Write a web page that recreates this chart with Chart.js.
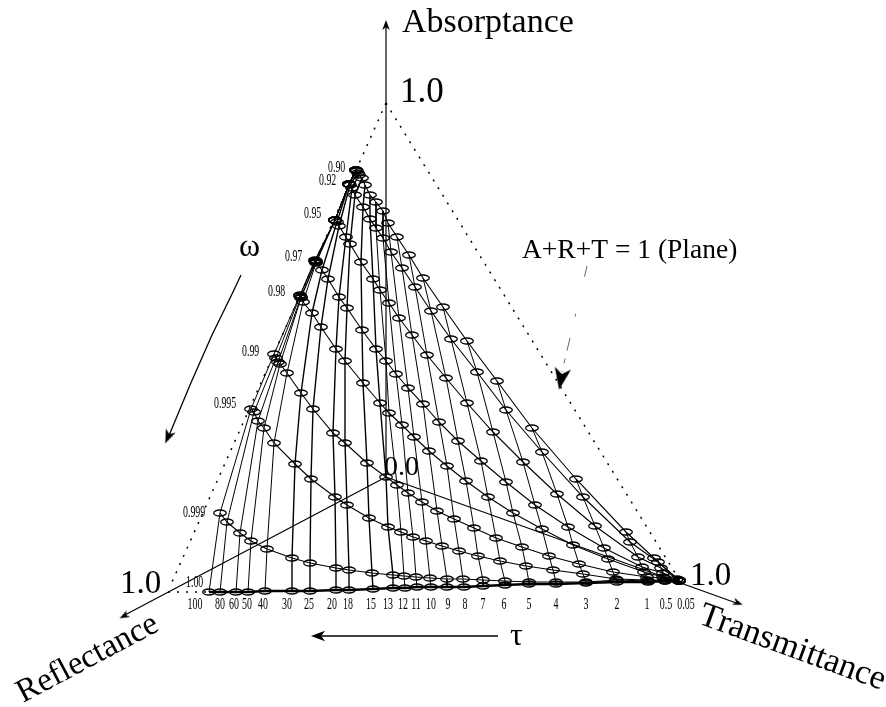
<!DOCTYPE html>
<html>
<head>
<meta charset="utf-8">
<title>A+R+T = 1</title>
<script src="https://cdn.jsdelivr.net/npm/chart.js@4/dist/chart.umd.min.js"></script>
<style>
  html, body { margin: 0; padding: 0; background: #fff; }
  canvas { display: block; }
</style>
</head>
<body>
<canvas id="chart" width="886" height="707"></canvas>
<script>
// optical depth labels, one point per curve for each of them
const tauLabels = ['100', '80', '60', '50', '40', '30', '25', '20', '18', '15', '13', '12', '11', '10', '9', '8', '7', '6', '5', '4', '3', '2', '1', '0.5', '0.05'];
const omegaLabels = ['0.90', '0.92', '0.95', '0.97', '0.98', '0.99', '0.995', '0.999', '1.00'];

// projected position of each (omega, tau) pair
const x090 = [356, 356, 356, 356, 356, 357, 358, 359, 362, 365, 370, 376, 383, 388, 397, 409, 423, 443, 467, 497, 532, 576, 626, 654, 677];
const y090 = [170, 170, 170, 170, 170, 171, 173, 175, 178, 185, 195, 202, 211, 223, 237, 255, 278, 307, 341, 381, 428, 479, 532, 558, 579];
const x092 = [349, 349, 349, 349, 349, 349, 350, 352, 355, 363, 370, 376, 383, 391, 402, 415, 431, 451, 477, 506, 542, 583, 630, 658, 679];
const y092 = [184, 184, 184, 184, 184, 184, 185, 188, 195, 207, 219, 228, 238, 252, 268, 287, 311, 339, 372, 410, 452, 497, 542, 562, 580];
const x095 = [335, 335, 335, 335, 335, 337, 339, 346, 350, 361, 373, 380, 389, 399, 412, 427, 446, 467, 493, 523, 557, 595, 638, 661, 679];
const y095 = [220, 220, 220, 220, 220, 222, 226, 237, 244, 262, 279, 290, 303, 318, 335, 355, 378, 403, 432, 462, 494, 526, 557, 568, 580];
const x097 = [315, 315, 316, 316, 316, 322, 328, 339, 347, 362, 376, 386, 396, 408, 423, 439, 458, 481, 506, 535, 568, 604, 642, 663, 679];
const y097 = [260, 261, 261, 262, 263, 270, 279, 297, 308, 330, 349, 361, 374, 388, 404, 422, 441, 461, 482, 505, 527, 548, 567, 573, 581];
const x098 = [300, 300, 301, 301, 303, 312, 321, 336, 345, 363, 380, 389, 402, 414, 429, 447, 466, 488, 513, 542, 573, 608, 644, 663, 679];
const y098 = [295, 296, 297, 298, 302, 313, 327, 349, 361, 383, 403, 413, 425, 437, 451, 466, 481, 497, 513, 529, 545, 559, 572, 577, 581];
const x099 = [274, 276, 278, 280, 287, 301, 313, 333, 345, 367, 386, 397, 408, 422, 437, 454, 474, 496, 522, 549, 579, 613, 647, 664, 679];
const y099 = [354, 358, 362, 364, 373, 393, 409, 433, 443, 463, 477, 485, 493, 502, 511, 519, 528, 538, 547, 556, 564, 572, 577, 578, 581];
const x0995 = [251, 254, 258, 264, 274, 295, 311, 335, 347, 369, 388, 401, 413, 426, 442, 459, 478, 500, 526, 553, 583, 616, 647, 665, 679];
const y0995 = [409, 412, 421, 428, 443, 464, 479, 497, 505, 518, 527, 532, 537, 541, 546, 551, 556, 561, 566, 570, 574, 579, 580, 580, 581];
const x0999 = [220, 227, 240, 251, 267, 292, 310, 336, 349, 372, 393, 404, 416, 430, 447, 463, 483, 505, 529, 556, 586, 617, 648, 665, 679];
const y0999 = [513, 522, 533, 541, 549, 558, 563, 568, 570, 573, 575, 576, 577, 578, 579, 579, 580, 581, 582, 582, 582, 580, 581, 581, 581];
const x100 = [209, 220, 236, 248, 265, 292, 310, 336, 349, 373, 393, 405, 417, 431, 447, 464, 483, 505, 529, 556, 586, 617, 648, 665, 679];
const y100 = [592, 592, 592, 592, 591, 591, 591, 590, 590, 589, 588, 588, 587, 587, 587, 587, 586, 585, 584, 584, 583, 582, 582, 581, 581];

const curvesX = [x090, x092, x095, x097, x098, x099, x0995, x0999, x100];
const curvesY = [y090, y092, y095, y097, y098, y099, y0995, y0999, y100];

const pairs = (xs, ys) => xs.map((x, i) => ({ x, y: ys[i] }));
const INK = '#000';

// small hollow ellipse used as the marker on the curves
function ellipseMarker() {
    const c = document.createElement('canvas');
    c.width = 16;
    c.height = 10;
    const g = c.getContext('2d');
    g.strokeStyle = INK;
    g.lineWidth = 1.3;
    g.beginPath();
    g.ellipse(8, 5, 6.3, 3, 0, 0, Math.PI * 2);
    g.stroke();
    return c;
}
const marker = ellipseMarker();

// barbed arrow head pointing up, turned by pointRotation
function arrowHead(size) {
    const c = document.createElement('canvas');
    c.width = size * 2;
    c.height = size * 2;
    const g = c.getContext('2d');
    g.fillStyle = INK;
    g.beginPath();
    g.moveTo(size, 0);
    g.lineTo(size * 1.75, size * 2);
    g.lineTo(size, size * 1.45);
    g.lineTo(size * 0.25, size * 2);
    g.closePath();
    g.fill();
    return c;
}

const datasets = [];

// omega curves, with the markers
curvesX.forEach((xs, k) => {
    datasets.push({
        label: 'omega ' + omegaLabels[k],
        data: pairs(xs, curvesY[k]),
        borderColor: INK,
        borderWidth: k === 8 ? 2.4 : 1.1,
        pointStyle: marker,
        pointRadius: 6
    });
});

// tau lines run across the omega curves
tauLabels.forEach((t, i) => {
    const thick = ['30', '25', '20', '18', '15', '13'].includes(t);
    datasets.push({
        label: 'tau ' + t,
        data: curvesX.map((xs, k) => ({ x: xs[i], y: curvesY[k][i] })),
        borderColor: INK,
        borderWidth: thick ? 1.4 : 1,
        pointRadius: 0
    });
});

// the three axes out of the origin, the plane outline, the two small arrows
const line = (label, xs, ys, extra) => datasets.push(Object.assign({
    label, data: pairs(xs, ys), borderColor: INK, borderWidth: 1.2, pointRadius: 0
}, extra));

line('absorptance axis', [386, 386], [477, 24]);
line('reflectance axis', [386, 123], [477, 616]);
line('transmittance axis', [386, 739], [477, 604]);
const dots = { borderDash: [2, 7], borderWidth: 1.5 };
line('plane right', [386, 680], [103, 581], dots);
line('plane left', [386, 172], [103, 582], dots);
line('plane bottom', [168, 209], [592, 592], dots);
line('omega arrow', [241, 233, 212, 190, 168], [275, 292, 335, 385, 438], { borderWidth: 1.3 });
line('tau arrow', [498, 318], [636, 636], { borderWidth: 1.6 });
line('plane leader', [587, 562], [266, 372], { borderDash: [11, 38, 3, 22, 13, 8, 5, 8], borderColor: '#666', borderWidth: 1 });

// arrow heads
const headsX = [386, 124, 738, 168, 318, 561];
const headsY = [25, 616, 603, 437, 636, 379];
const headsAngle = [0, -118, 110, 203, -90, 190];
const headsSize = [5, 5, 5, 7, 7, 11];
datasets.push({
    label: 'arrow heads',
    data: pairs(headsX, headsY),
    showLine: false,
    pointStyle: headsSize.map(arrowHead),
    pointRotation: headsAngle,
    pointRadius: headsSize
});

// text on the chart, [text, x, y, size, angle, x-squeeze, align]
const SERIF = '"Liberation Serif", serif';
const titleTexts = [
    ['Absorptance', 402, 32, 34, 0, 1, 'left'],
    ['1.0', 400, 102, 35, 0, 1, 'left'],
    ['1.0', 120, 593, 33, 0, 1, 'left'],
    ['1.0', 690, 585, 33, 0, 1, 'left'],
    ['A+R+T = 1 (Plane)', 522, 258, 27.5, 0, 1, 'left'],
    ['0.0', 384, 475, 28, 0, 1, 'left'],
    ['ω', 239, 256, 32, 0, 1, 'left'],
    ['τ', 510, 645, 32, 0, 1, 'left'],
    ['Reflectance', 23, 703, 33, -28, 1, 'left'],
    ['Transmittance', 697, 623, 34.5, 20, 1, 'left']
];
const omegaTextX = [328, 319, 304, 285, 268, 242, 214, 183, 186];
const omegaTextY = [172, 185, 218, 261, 296, 356, 408, 517, 587];
const tauTextX = [195, 220, 234, 247, 263, 287, 309, 332, 348, 371, 388, 403, 416, 431, 448, 465, 483, 504, 529, 556, 586, 617, 647, 666, 686];

const textPlugin = {
    id: 'chartText',
    afterDatasetsDraw(chart) {
        const { ctx, scales } = chart;
        const put = (text, x, y, size, angle, squeeze, align) => {
            ctx.save();
            ctx.translate(scales.x.getPixelForValue(x), scales.y.getPixelForValue(y));
            ctx.rotate(angle * Math.PI / 180);
            ctx.scale(squeeze, 1);
            ctx.font = size + 'px ' + SERIF;
            ctx.fillStyle = INK;
            ctx.textAlign = align;
            ctx.textBaseline = 'alphabetic';
            ctx.fillText(text, 0, 0);
            ctx.restore();
        };
        titleTexts.forEach(t => put(...t));
        omegaLabels.forEach((t, i) => put(t, omegaTextX[i], omegaTextY[i], 17, 0, 0.58, 'left'));
        tauLabels.forEach((t, i) => put(t, tauTextX[i], 609, 16, 0, 0.62, 'center'));
    }
};

new Chart(document.getElementById('chart'), {
    type: 'scatter',
    data: { datasets },
    options: {
        responsive: false,
        animation: false,
        showLine: true,
        layout: { padding: 0, autoPadding: false },
        scales: {
            x: { type: 'linear', min: 0, max: 886, display: false },
            y: { type: 'linear', min: 0, max: 707, reverse: true, display: false }
        },
        plugins: { legend: { display: false }, tooltip: { enabled: false } }
    },
    plugins: [textPlugin]
});
</script>
</body>
</html>
